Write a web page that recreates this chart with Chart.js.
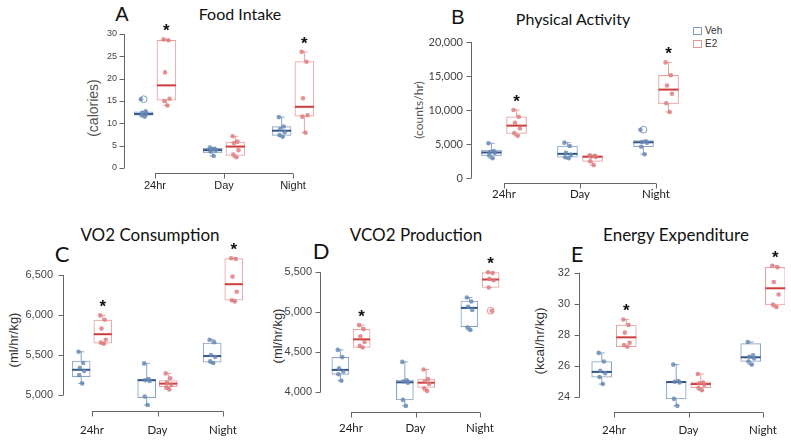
<!DOCTYPE html>
<html>
<head>
<meta charset="utf-8">
<script src="https://cdn.jsdelivr.net/npm/chart.js@4.4.1/dist/chart.umd.min.js"></script>
<style>
  body { margin: 0; background: #fff; }
  #wrap { position: relative; width: 791px; height: 441px; overflow: hidden; }
  #wrap canvas { position: absolute; left: 0; top: 0; }
  .lbl { position: absolute; transform: translate(-50%, -50%); white-space: nowrap; color: #111; }
  .ytitle { position: absolute; transform: translate(-50%, -50%) rotate(-90deg); white-space: nowrap; }
  .leg { position: absolute; font: 10px "Liberation Sans", Arial, sans-serif; color: #333; }
  .leg span { display: inline-block; width: 7px; height: 6px; margin-right: 3px; vertical-align: -1px; }
</style>
</head>
<body>
<div id="wrap">
  <div class="lbl" style="left:122px;top:14px;font:20px 'Liberation Sans',Arial,sans-serif">A</div>
  <div class="lbl" style="left:240px;top:13px;font:16px Lato,sans-serif">Food Intake</div>
  <div class="ytitle" style="left:93px;top:108px;font:14px 'Liberation Sans',Arial,sans-serif;color:#555">(calories)</div>

  <div class="lbl" style="left:458px;top:17px;font:20px 'Liberation Sans',Arial,sans-serif">B</div>
  <div class="lbl" style="left:573px;top:18px;font:16px Lato,sans-serif">Physical Activity</div>
  <div class="ytitle" style="left:418px;top:110px;font:12px Lato,sans-serif;color:#555">(counts/hr)</div>
  <div class="leg" style="left:693px;top:25px"><span style="border:1px solid #7f9cbf"></span>Veh</div>
  <div class="leg" style="left:693px;top:38px"><span style="border:1px solid #e39a9a"></span>E2</div>

  <div class="lbl" style="left:62px;top:253px;font:22px Lato,sans-serif">C</div>
  <div class="lbl" style="left:150px;top:234px;font:17px Lato,sans-serif">VO2 Consumption</div>
  <div class="ytitle" style="left:13px;top:340px;font:13px 'Liberation Sans',Arial,sans-serif;color:#333">(ml/hr/kg)</div>

  <div class="lbl" style="left:321px;top:250px;font:22px Lato,sans-serif">D</div>
  <div class="lbl" style="left:416px;top:234px;font:17px Lato,sans-serif">VCO2 Production</div>
  <div class="ytitle" style="left:277px;top:336px;font:13px 'Liberation Sans',Arial,sans-serif;color:#333">(ml/hr/kg)</div>

  <div class="lbl" style="left:577px;top:253px;font:22px Lato,sans-serif">E</div>
  <div class="lbl" style="left:676px;top:234px;font:17px Lato,sans-serif">Energy Expenditure</div>
  <div class="ytitle" style="left:539px;top:341px;font:13.5px 'Liberation Sans',Arial,sans-serif;color:#333">(kcal/hr/kg)</div>
</div>
<script>
const categories = ["24hr", "Day", "Night"];

// A - food intake (calories), six animals per group
const foodVeh = [[15.4, 12.7, 12.3, 12.1, 11.8, 11.5], [4.6, 4.3, 4.1, 3.9, 3.7, 2.7], [11.4, 9.3, 8.7, 8.0, 7.4, 7.0]];
const foodE2 = [[28.8, 28.6, 21.4, 15.5, 15.0, 14.0], [7.1, 5.9, 5.6, 4.0, 3.0, 2.4], [26.0, 23.8, 15.6, 11.8, 11.5, 7.9]];
const foodVehBox = [[11.8, 12.1, 12.6], [3.4, 4.0, 4.4], [7.3, 8.35, 9.25]]; // q1, median, q3
const foodE2Box = [[15.2, 18.5, 28.6], [2.8, 4.8, 5.8], [11.6, 13.7, 23.8]];
const foodTicks = [0, 5, 10, 15, 20, 25, 30];
const foodStars = [true, false, true];

// B - physical activity (counts/hr)
const actVeh = [[5100, 3950, 3800, 3700, 3300, 2900], [5200, 4700, 3700, 3400, 3050, 2900], [7100, 5400, 5300, 5200, 4600, 3500]];
const actE2 = [[10000, 9000, 8100, 7300, 6600, 6200], [3350, 3250, 3150, 3100, 2450, 1900], [17000, 15100, 13600, 12400, 11000, 9700]];
const actVehBox = [[3250, 3750, 4100], [3050, 3550, 4700], [4600, 5250, 5500]];
const actE2Box = [[6550, 7700, 9000], [2450, 3125, 3250], [10900, 13000, 15100]];
const actTicks = [0, 5000, 10000, 15000, 20000];
const actStars = [true, false, true];

// C - VO2 consumption (ml/hr/kg)
const vo2Veh = [[5540, 5400, 5340, 5300, 5250, 5145], [5395, 5200, 5185, 5175, 4980, 4875], [5690, 5660, 5500, 5475, 5420, 5400]];
const vo2E2 = [[5995, 5940, 5830, 5690, 5655, 5640], [5270, 5210, 5155, 5130, 5095, 5070], [6710, 6700, 6480, 6290, 6185, 6170]];
const vo2VehBox = [[5230, 5315, 5425], [4967, 5185, 5196], [5410, 5487, 5650]];
const vo2E2Box = [[5648, 5760, 5937], [5105, 5142, 5180], [6185, 6385, 6705]];
const vo2Ticks = [5000, 5500, 6000, 6500];
const vo2Stars = [true, false, true];

// D - VCO2 production (ml/hr/kg)
const vco2Veh = [[4530, 4440, 4300, 4260, 4225, 4145], [4380, 4150, 4135, 4120, 3905, 3830], [5185, 5135, 5070, 5030, 4810, 4780]];
const vco2E2 = [[4840, 4790, 4700, 4630, 4580, 4560], [4285, 4165, 4135, 4105, 4050, 4017], [5500, 5490, 5420, 5400, 5310, 5020]];
const vco2VehBox = [[4225, 4280, 4437], [3904, 4125, 4154], [4820, 5055, 5140]];
const vco2E2Box = [[4562, 4662, 4787], [4060, 4120, 4165], [5310, 5410, 5495]];
const vco2Ticks = [4000, 4500, 5000, 5500];
const vco2Stars = [true, false, true];

// E - energy expenditure (kcal/hr/kg)
const eeVeh = [[26.85, 26.3, 25.7, 25.55, 25.3, 24.85], [26.1, 25.05, 25.0, 24.95, 23.9, 23.45], [27.55, 26.7, 26.6, 26.5, 26.3, 26.1]];
const eeE2 = [[29.0, 28.65, 28.15, 27.5, 27.35, 27.25], [25.5, 24.95, 24.9, 24.8, 24.6, 24.45], [32.45, 32.35, 31.4, 30.6, 29.95, 29.8]];
const eeVehBox = [[25.3, 25.63, 26.3], [23.9, 24.98, 25.02], [26.3, 26.57, 27.45]];
const eeE2Box = [[27.25, 27.85, 28.64], [24.62, 24.85, 25.0], [29.93, 31.0, 32.35]];
const eeTicks = [24, 26, 28, 30, 32];
const eeStars = [true, false, true];

const VEH = { box: "#8aa4c4", med: "#34568a", pt: "rgba(100,134,176,0.8)" };
const E2 = { box: "#e6a2a2", med: "#cf3d3d", pt: "rgba(220,120,122,0.8)" };
const OFF = 0.165; // group offset from category centre
const jitter = [-0.04, 0.03, -0.02, 0.045, -0.03, 0.015];

const Y_W = 60, X_H = 30;

function whiskers(pts, box) {
  const [q1, , q3] = box;
  const iqr = q3 - q1;
  const inside = pts.filter((v) => v >= q1 - 1.5 * iqr && v <= q3 + 1.5 * iqr);
  const outl = pts.filter((v) => v < q1 - 1.5 * iqr || v > q3 + 1.5 * iqr);
  return { lo: Math.min(q1, ...inside), hi: Math.max(q3, ...inside), outl };
}

function makePanel(p) {
  const canvas = document.createElement("canvas");
  canvas.width = 791;
  canvas.height = 441;
  document.getElementById("wrap").appendChild(canvas);

  const last = p.ticks[p.ticks.length - 1];
  const xUnit = (p.x2 - p.x0) / 2;
  const yUnit = (p.yLoPx - p.yHiPx) / (last - p.ticks[0]);
  const xmin = -(p.x0 - p.left) / xUnit;
  const xmax = 2 + (p.right - p.x2) / xUnit;
  const ymin = p.ticks[0] - (p.bottom - p.yLoPx) / yUnit;
  const ymax = last + (p.yHiPx - p.top) / yUnit;

  const groups = [
    { pts: p.veh, box: p.vehBox, off: -OFF, col: VEH },
    { pts: p.e2, box: p.e2Box, off: OFF, col: E2 },
  ];

  const datasets = [];
  groups.forEach((g, gi) => {
    datasets.push({
      type: "bar",
      role: gi === 0 ? "vehbox" : "e2box",
      data: g.box.map((b, i) => ({ x: i + g.off, y: [b[0], b[2]] })),
      backgroundColor: "rgba(255,255,255,0.9)",
      borderColor: g.col.box,
      borderWidth: 1,
      borderSkipped: false,
      barThickness: p.boxW,
      grouped: false,
      order: 3 - gi,
    });
  });
  groups.forEach((g) => {
    datasets.push({
      type: "scatter",
      data: g.pts.flatMap((arr, i) => arr.map((v, j) => ({ x: i + g.off + jitter[j], y: v }))),
      backgroundColor: g.col.pt,
      borderWidth: 0,
      pointRadius: 2.3,
      order: 1,
    });
    datasets.push({
      type: "scatter",
      data: g.pts.flatMap((arr, i) => whiskers(arr, g.box[i]).outl.map((v) => ({ x: i + g.off, y: v }))),
      backgroundColor: "rgba(0,0,0,0)",
      borderColor: g.col.pt,
      borderWidth: 1,
      pointRadius: 3.4,
      order: 0,
    });
  });

  const boxExtras = {
    id: "boxExtras",
    afterDatasetDraw(chart, args) {
      if (chart.data.datasets[args.index].role !== "e2box") return;
      const ctx = chart.ctx;
      const xs = chart.scales.x, ys = chart.scales.y;
      ctx.save();
      groups.forEach((g) => {
        g.box.forEach((b, i) => {
          const cx = xs.getPixelForValue(i + g.off);
          const w = whiskers(g.pts[i], b);
          ctx.strokeStyle = g.col.box;
          ctx.lineWidth = 1;
          ctx.beginPath();
          ctx.moveTo(cx, ys.getPixelForValue(b[2]));
          ctx.lineTo(cx, ys.getPixelForValue(w.hi));
          ctx.moveTo(cx, ys.getPixelForValue(b[0]));
          ctx.lineTo(cx, ys.getPixelForValue(w.lo));
          if (w.hi > b[2]) {
            ctx.moveTo(cx - 3, ys.getPixelForValue(w.hi));
            ctx.lineTo(cx + 3, ys.getPixelForValue(w.hi));
          }
          if (w.lo < b[0]) {
            ctx.moveTo(cx - 3, ys.getPixelForValue(w.lo));
            ctx.lineTo(cx + 3, ys.getPixelForValue(w.lo));
          }
          ctx.stroke();
          ctx.strokeStyle = g.col.med;
          ctx.lineWidth = 2;
          ctx.beginPath();
          const my = ys.getPixelForValue(b[1]);
          ctx.moveTo(cx - p.boxW / 2, my);
          ctx.lineTo(cx + p.boxW / 2, my);
          ctx.stroke();
        });
      });
      ctx.restore();
    },
    afterDraw(chart) {
      const ctx = chart.ctx;
      const xs = chart.scales.x, ys = chart.scales.y;
      const a = chart.chartArea;
      ctx.save();
      ctx.strokeStyle = "#666";
      ctx.lineWidth = 1;
      ctx.beginPath();
      const ax = Math.round(a.left) + 0.5;
      ctx.moveTo(ax, ys.getPixelForValue(p.ticks[0]));
      ctx.lineTo(ax, ys.getPixelForValue(last));
      p.ticks.forEach((t) => {
        const ty = Math.round(ys.getPixelForValue(t)) + 0.5;
        ctx.moveTo(ax, ty);
        ctx.lineTo(ax - 5, ty);
      });
      const by = Math.round(a.bottom) + 0.5;
      ctx.moveTo(xs.getPixelForValue(0), by);
      ctx.lineTo(xs.getPixelForValue(2), by);
      categories.forEach((c, i) => {
        const tx = Math.round(xs.getPixelForValue(i)) + 0.5;
        ctx.moveTo(tx, by);
        ctx.lineTo(tx, by + 5);
      });
      ctx.stroke();
      // significance stars above the E2 group
      ctx.fillStyle = "#111";
      ctx.font = "bold 17px 'Liberation Sans', Arial, sans-serif";
      ctx.textAlign = "center";
      ctx.textBaseline = "alphabetic";
      p.stars.forEach((s, i) => {
        if (!s) return;
        const top = ys.getPixelForValue(Math.max(...p.e2[i]));
        ctx.fillText("*", xs.getPixelForValue(i + OFF), top - 3);
      });
      ctx.restore();
    },
  };

  return new Chart(canvas.getContext("2d"), {
    type: "bar",
    data: { datasets },
    options: {
      responsive: false,
      animation: false,
      layout: {
        padding: { left: p.left - Y_W, top: p.top, right: 791 - p.right, bottom: 441 - p.bottom - X_H },
      },
      plugins: { legend: { display: false }, tooltip: { enabled: false } },
      scales: {
        x: {
          type: "linear",
          min: xmin,
          max: xmax,
          offset: false,
          afterBuildTicks: (s) => { s.ticks = categories.map((c, i) => ({ value: i })); },
          afterFit: (s) => { s.height = X_H; },
          grid: { display: false, drawTicks: false },
          border: { display: false },
          ticks: {
            callback: (v) => categories[v],
            autoSkip: false,
            maxRotation: 0,
            padding: p.xPad,
            color: "#222",
            font: p.xFont,
          },
        },
        y: {
          min: ymin,
          max: ymax,
          afterBuildTicks: (s) => { s.ticks = p.ticks.map((v) => ({ value: v })); },
          afterFit: (s) => { s.width = Y_W; },
          grid: { display: false, drawTicks: false },
          border: { display: false },
          ticks: {
            callback: (v) => v.toLocaleString("en-US"),
            padding: p.yPad,
            color: "#444",
            font: p.yFont,
          },
        },
      },
    },
    plugins: [boxExtras],
  });
}

const arial = "'Liberation Sans', Arial, sans-serif";

makePanel({
  veh: foodVeh, e2: foodE2, vehBox: foodVehBox, e2Box: foodE2Box, ticks: foodTicks, stars: foodStars,
  left: 124, right: 330, top: 18, bottom: 173, x0: 155, x2: 293, yLoPx: 168, yHiPx: 34, boxW: 19,
  xPad: 6, yPad: 7, xFont: { family: arial, size: 11 }, yFont: { family: arial, size: 9 },
});
makePanel({
  veh: actVeh, e2: actE2, vehBox: actVehBox, e2Box: actE2Box, ticks: actTicks, stars: actStars,
  left: 471, right: 692, top: 25, bottom: 183, x0: 504, x2: 656, yLoPx: 178, yHiPx: 42, boxW: 20,
  xPad: 4, yPad: 8, xFont: { family: "Lato", size: 11.5 }, yFont: { family: "Lato", size: 11 },
});
makePanel({
  veh: vo2Veh, e2: vo2E2, vehBox: vo2VehBox, e2Box: vo2E2Box, ticks: vo2Ticks, stars: vo2Stars,
  left: 63, right: 255, top: 240, bottom: 411, x0: 92, x2: 223, yLoPx: 395, yHiPx: 275, boxW: 18,
  xPad: 12, yPad: 10, xFont: { family: "Lato", size: 11.5 }, yFont: { family: arial, size: 11 },
});
makePanel({
  veh: vco2Veh, e2: vco2E2, vehBox: vco2VehBox, e2Box: vco2E2Box, ticks: vco2Ticks, stars: vco2Stars,
  left: 320, right: 510, top: 240, bottom: 411.7, x0: 351, x2: 480, yLoPx: 392.3, yHiPx: 272.3, boxW: 17,
  xPad: 10, yPad: 8, xFont: { family: "Lato", size: 11.5 }, yFont: { family: arial, size: 11 },
});
makePanel({
  veh: eeVeh, e2: eeE2, vehBox: eeVehBox, e2Box: eeE2Box, ticks: eeTicks, stars: eeStars,
  left: 579, right: 785, top: 240, bottom: 411.7, x0: 614, x2: 763, yLoPx: 397.3, yHiPx: 272.7, boxW: 20,
  xPad: 12, yPad: 9, xFont: { family: "Lato", size: 11.5 }, yFont: { family: arial, size: 11 },
});
</script>
</body>
</html>
